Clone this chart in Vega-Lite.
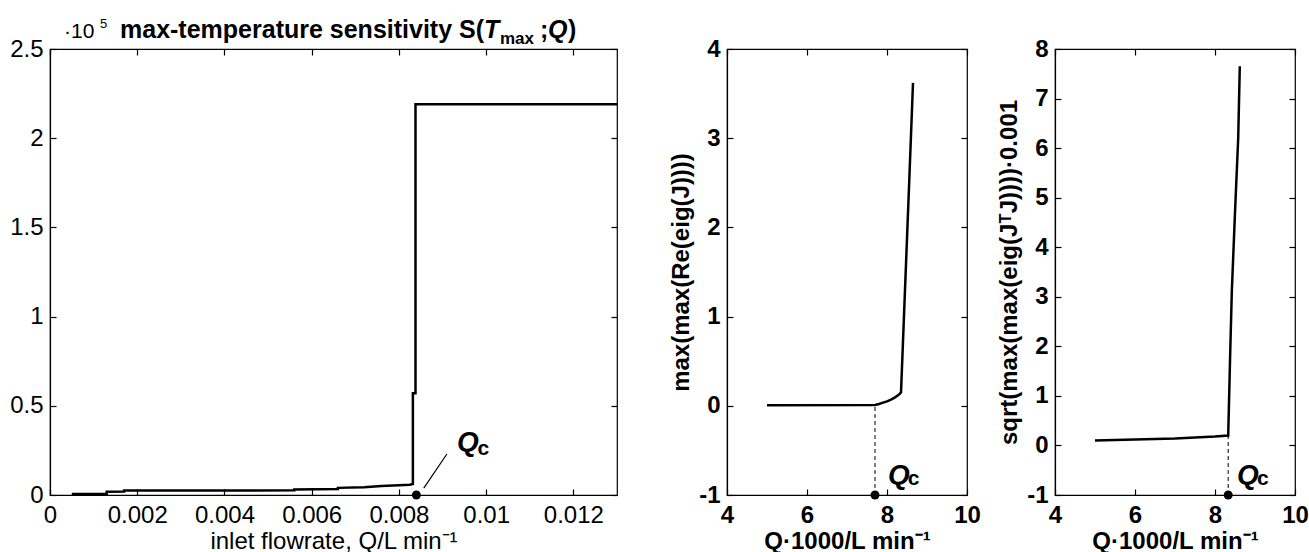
{
  "$schema": "https://vega.github.io/schema/vega-lite/v6.json",
  "padding": {"left": 9, "top": 17, "right": 2, "bottom": 3},
  "background": "white",
  "config": {
    "font": "Liberation Sans",
    "view": {"stroke": "black", "strokeWidth": 1.2},
    "axis": {"grid": false, "domainColor": "black", "domainWidth": 1.2, "tickColor": "black", "tickSize": 6, "tickWidth": 1.2, "labelColor": "black", "labelFont": "Liberation Sans", "labelFontSize": 24, "labelPadding": 7, "labelOverlap": false, "labelFlush": false, "titleColor": "black", "titleFont": "Liberation Sans", "titleFontSize": 24, "titleFontWeight": "normal"},
    "line": {"color": "black", "strokeWidth": 2.5},
    "text": {"font": "Liberation Sans", "color": "black"}
  },
  "datasets": {
    "sens": [
      {"Q": 0.0005, "S": 0.005}, {"Q": 0.0013, "S": 0.006}, {"Q": 0.0013, "S": 0.018}, {"Q": 0.0017, "S": 0.02}, {"Q": 0.0017, "S": 0.025},
      {"Q": 0.0056, "S": 0.026}, {"Q": 0.0056, "S": 0.031}, {"Q": 0.0066, "S": 0.034}, {"Q": 0.0066, "S": 0.04}, {"Q": 0.0072, "S": 0.044},
      {"Q": 0.0076, "S": 0.05}, {"Q": 0.008, "S": 0.055}, {"Q": 0.00825, "S": 0.058}, {"Q": 0.00832, "S": 0.062}, {"Q": 0.00832, "S": 0.57},
      {"Q": 0.00838, "S": 0.57}, {"Q": 0.00838, "S": 2.19}, {"Q": 0.013, "S": 2.19}
    ],
    "eigRe": [
      {"Q": 5, "v": 0.005}, {"Q": 7.7, "v": 0.01}, {"Q": 7.8, "v": 0.02}, {"Q": 7.9, "v": 0.035}, {"Q": 8.0, "v": 0.05}, {"Q": 8.1, "v": 0.07},
      {"Q": 8.2, "v": 0.095}, {"Q": 8.3, "v": 0.125}, {"Q": 8.35, "v": 0.15}, {"Q": 8.45, "v": 1.3}, {"Q": 8.55, "v": 2.45}, {"Q": 8.65, "v": 3.62}
    ],
    "eigJTJ": [
      {"Q": 5, "v": 0.1}, {"Q": 6, "v": 0.12}, {"Q": 7, "v": 0.14}, {"Q": 7.5, "v": 0.16}, {"Q": 8, "v": 0.18}, {"Q": 8.33, "v": 0.2},
      {"Q": 8.375, "v": 1.7}, {"Q": 8.42, "v": 3.1}, {"Q": 8.5, "v": 4.7}, {"Q": 8.58, "v": 6.2}, {"Q": 8.62, "v": 7.65}
    ],
    "one": [{}]
  },
  "bounds": "flush",
  "spacing": 110,
  "hconcat": [
    {
      "width": 567,
      "height": 446,
      "resolve": {"axis": {"x": "independent", "y": "independent"}},
      "layer": [
        {
          "data": {"name": "sens"},
          "mark": {"type": "line", "interpolate": "linear"},
          "encoding": {
            "x": {"field": "Q", "type": "quantitative", "scale": {"domain": [0, 0.013], "nice": false, "zero": false}, "axis": {"orient": "bottom", "values": [0, 0.002, 0.004, 0.006, 0.008, 0.01, 0.012], "format": "~g", "ticks": false, "labelPadding": 8, "title": "inlet flowrate, Q/L min⁻¹", "titlePadding": 2}},
            "y": {"field": "S", "type": "quantitative", "scale": {"domain": [0, 2.5], "nice": false, "zero": false}, "axis": {"orient": "left", "values": [0, 0.5, 1, 1.5, 2, 2.5], "format": "~g", "ticks": false, "title": null}}
          }
        },
        {
          "data": {"name": "sens"},
          "mark": {"type": "point", "opacity": 0},
          "encoding": {
            "x": {"field": "Q", "type": "quantitative", "axis": {"orient": "top", "offset": -6, "domain": false, "values": [0, 0.002, 0.004, 0.006, 0.008, 0.01, 0.012], "labels": false, "title": null}},
            "y": {"field": "S", "type": "quantitative", "axis": {"orient": "right", "offset": -6, "domain": false, "values": [0, 0.5, 1, 1.5, 2, 2.5], "labels": false, "title": null}}
          }
        },
        {
          "data": {"name": "sens"},
          "mark": {"type": "point", "opacity": 0},
          "encoding": {
            "x": {"field": "Q", "type": "quantitative", "axis": {"orient": "bottom", "offset": -6, "domain": false, "values": [0, 0.002, 0.004, 0.006, 0.008, 0.01, 0.012], "labels": false, "title": null}},
            "y": {"field": "S", "type": "quantitative", "axis": {"orient": "left", "offset": -6, "domain": false, "values": [0, 0.5, 1, 1.5, 2, 2.5], "labels": false, "title": null}}
          }
        },
        {
          "data": {"name": "one"},
          "mark": {"type": "rule", "color": "black", "strokeWidth": 1.2},
          "encoding": {"x": {"datum": 0.00857, "axis": null}, "y": {"datum": 0.039, "axis": null}, "x2": {"datum": 0.0091}, "y2": {"datum": 0.23}}
        },
        {
          "data": {"name": "one"},
          "mark": {"type": "point", "filled": true, "color": "black", "size": 80, "opacity": 1},
          "encoding": {"x": {"datum": 0.0084, "axis": null}, "y": {"datum": 0, "axis": null}}
        },
        {
          "data": {"name": "one"},
          "mark": {"type": "text", "text": "Q", "fontSize": 28, "fontWeight": "bold", "fontStyle": "italic", "align": "left", "baseline": "alphabetic"},
          "encoding": {"x": {"datum": 0.00933, "axis": null}, "y": {"datum": 0.247, "axis": null}}
        },
        {
          "data": {"name": "one"},
          "mark": {"type": "text", "text": "c", "fontSize": 21, "fontWeight": "bold", "align": "left", "baseline": "alphabetic"},
          "encoding": {"x": {"datum": 0.0098, "axis": null}, "y": {"datum": 0.224, "axis": null}}
        },
        {
          "data": {"name": "one"},
          "mark": {"type": "text", "text": "·10", "fontSize": 21, "align": "left", "baseline": "alphabetic"},
          "encoding": {"x": {"datum": 0.000321, "axis": null}, "y": {"datum": 2.5617, "axis": null}}
        },
        {
          "data": {"name": "one"},
          "mark": {"type": "text", "text": "5", "fontSize": 13, "align": "left", "baseline": "alphabetic"},
          "encoding": {"x": {"datum": 0.001146, "axis": null}, "y": {"datum": 2.6177, "axis": null}}
        },
        {
          "data": {"name": "one"},
          "mark": {"type": "text", "text": "max-temperature sensitivity S(", "fontSize": 25, "fontWeight": "bold", "align": "left", "baseline": "alphabetic"},
          "encoding": {"x": {"datum": 0.001605, "axis": null}, "y": {"datum": 2.5617, "axis": null}}
        },
        {
          "data": {"name": "one"},
          "mark": {"type": "text", "text": "T", "fontSize": 25, "fontWeight": "bold", "fontStyle": "italic", "align": "left", "baseline": "alphabetic"},
          "encoding": {"x": {"datum": 0.009951, "axis": null}, "y": {"datum": 2.5617, "axis": null}}
        },
        {
          "data": {"name": "one"},
          "mark": {"type": "text", "text": "max", "fontSize": 17, "fontWeight": "bold", "align": "left", "baseline": "alphabetic"},
          "encoding": {"x": {"datum": 0.010317, "axis": null}, "y": {"datum": 2.528, "axis": null}}
        },
        {
          "data": {"name": "one"},
          "mark": {"type": "text", "text": ";", "fontSize": 25, "fontWeight": "bold", "align": "left", "baseline": "alphabetic"},
          "encoding": {"x": {"datum": 0.011235, "axis": null}, "y": {"datum": 2.5617, "axis": null}}
        },
        {
          "data": {"name": "one"},
          "mark": {"type": "text", "text": "Q", "fontSize": 25, "fontWeight": "bold", "fontStyle": "italic", "align": "left", "baseline": "alphabetic"},
          "encoding": {"x": {"datum": 0.011418, "axis": null}, "y": {"datum": 2.5617, "axis": null}}
        },
        {
          "data": {"name": "one"},
          "mark": {"type": "text", "text": ")", "fontSize": 25, "fontWeight": "bold", "align": "left", "baseline": "alphabetic"},
          "encoding": {"x": {"datum": 0.011877, "axis": null}, "y": {"datum": 2.5617, "axis": null}}
        }
      ]
    },
    {
      "bounds": "flush",
      "spacing": 88,
      "hconcat": [
        {
          "width": 240,
          "height": 446,
          "resolve": {"axis": {"x": "independent", "y": "independent"}},
          "layer": [
            {
              "data": {"name": "eigRe"},
              "mark": {"type": "line"},
              "encoding": {
                "x": {"field": "Q", "type": "quantitative", "scale": {"domain": [4, 10], "nice": false, "zero": false}, "axis": {"orient": "bottom", "values": [4, 6, 8, 10], "ticks": false, "labelPadding": 8, "labelFontWeight": "bold", "title": "Q·1000/L min⁻¹", "titleFontWeight": "bold", "titlePadding": 2}},
                "y": {"field": "v", "type": "quantitative", "scale": {"domain": [-1, 4], "nice": false, "zero": false}, "axis": {"orient": "left", "values": [-1, 0, 1, 2, 3, 4], "labelExpr": "replace(datum.label, '−', '-')", "ticks": false, "labelFontWeight": "bold", "title": "max(max(Re(eig(J))))", "titleFontWeight": "bold", "titlePadding": 5}}
              }
            },
            {
              "data": {"name": "eigRe"},
              "mark": {"type": "point", "opacity": 0},
              "encoding": {
                "x": {"field": "Q", "type": "quantitative", "axis": {"orient": "top", "offset": -6, "domain": false, "values": [4, 6, 8, 10], "labels": false, "title": null}},
                "y": {"field": "v", "type": "quantitative", "axis": {"orient": "right", "offset": -6, "domain": false, "values": [-1, 0, 1, 2, 3, 4], "labels": false, "title": null}}
              }
            },
            {
              "data": {"name": "eigRe"},
              "mark": {"type": "point", "opacity": 0},
              "encoding": {
                "x": {"field": "Q", "type": "quantitative", "axis": {"orient": "bottom", "offset": -6, "domain": false, "values": [4, 6, 8, 10], "labels": false, "title": null}},
                "y": {"field": "v", "type": "quantitative", "axis": {"orient": "left", "offset": -6, "domain": false, "values": [-1, 0, 1, 2, 3, 4], "labels": false, "title": null}}
              }
            },
            {
              "data": {"name": "one"},
              "mark": {"type": "rule", "color": "black", "strokeWidth": 1, "strokeDash": [4, 3]},
              "encoding": {"x": {"datum": 7.7, "axis": null}, "y": {"datum": -1, "axis": null}, "y2": {"datum": 0.01}}
            },
            {
              "data": {"name": "one"},
              "mark": {"type": "point", "filled": true, "color": "black", "size": 80, "opacity": 1},
              "encoding": {"x": {"datum": 7.7, "axis": null}, "y": {"datum": -1, "axis": null}}
            },
            {
              "data": {"name": "one"},
              "mark": {"type": "text", "text": "Q", "fontSize": 28, "fontWeight": "bold", "fontStyle": "italic", "align": "left", "baseline": "alphabetic"},
              "encoding": {"x": {"datum": 8.025, "axis": null}, "y": {"datum": -0.877, "axis": null}}
            },
            {
              "data": {"name": "one"},
              "mark": {"type": "text", "text": "c", "fontSize": 21, "fontWeight": "bold", "align": "left", "baseline": "alphabetic"},
              "encoding": {"x": {"datum": 8.52, "axis": null}, "y": {"datum": -0.888, "axis": null}}
            }
          ]
        },
        {
          "width": 240,
          "height": 446,
          "resolve": {"axis": {"x": "independent", "y": "independent"}},
          "layer": [
            {
              "data": {"name": "eigJTJ"},
              "mark": {"type": "line"},
              "encoding": {
                "x": {"field": "Q", "type": "quantitative", "scale": {"domain": [4, 10], "nice": false, "zero": false}, "axis": {"orient": "bottom", "values": [4, 6, 8, 10], "ticks": false, "labelPadding": 8, "labelFontWeight": "bold", "title": "Q·1000/L min⁻¹", "titleFontWeight": "bold", "titlePadding": 2}},
                "y": {"field": "v", "type": "quantitative", "scale": {"domain": [-1, 8], "nice": false, "zero": false}, "axis": {"orient": "left", "values": [-1, 0, 1, 2, 3, 4, 5, 6, 7, 8], "labelExpr": "replace(datum.label, '−', '-')", "ticks": false, "labelFontWeight": "bold", "title": "sqrt(max(max(eig(JᵀJ))))·0.001", "titleFontWeight": "bold", "titlePadding": 5}}
              }
            },
            {
              "data": {"name": "eigJTJ"},
              "mark": {"type": "point", "opacity": 0},
              "encoding": {
                "x": {"field": "Q", "type": "quantitative", "axis": {"orient": "top", "offset": -6, "domain": false, "values": [4, 6, 8, 10], "labels": false, "title": null}},
                "y": {"field": "v", "type": "quantitative", "axis": {"orient": "right", "offset": -6, "domain": false, "values": [-1, 0, 1, 2, 3, 4, 5, 6, 7, 8], "labels": false, "title": null}}
              }
            },
            {
              "data": {"name": "eigJTJ"},
              "mark": {"type": "point", "opacity": 0},
              "encoding": {
                "x": {"field": "Q", "type": "quantitative", "axis": {"orient": "bottom", "offset": -6, "domain": false, "values": [4, 6, 8, 10], "labels": false, "title": null}},
                "y": {"field": "v", "type": "quantitative", "axis": {"orient": "left", "offset": -6, "domain": false, "values": [-1, 0, 1, 2, 3, 4, 5, 6, 7, 8], "labels": false, "title": null}}
              }
            },
            {
              "data": {"name": "one"},
              "mark": {"type": "rule", "color": "black", "strokeWidth": 1, "strokeDash": [4, 3]},
              "encoding": {"x": {"datum": 8.33, "axis": null}, "y": {"datum": -1, "axis": null}, "y2": {"datum": 0.2}}
            },
            {
              "data": {"name": "one"},
              "mark": {"type": "point", "filled": true, "color": "black", "size": 80, "opacity": 1},
              "encoding": {"x": {"datum": 8.33, "axis": null}, "y": {"datum": -1, "axis": null}}
            },
            {
              "data": {"name": "one"},
              "mark": {"type": "text", "text": "Q", "fontSize": 28, "fontWeight": "bold", "fontStyle": "italic", "align": "left", "baseline": "alphabetic"},
              "encoding": {"x": {"datum": 8.55, "axis": null}, "y": {"datum": -0.78, "axis": null}}
            },
            {
              "data": {"name": "one"},
              "mark": {"type": "text", "text": "c", "fontSize": 21, "fontWeight": "bold", "align": "left", "baseline": "alphabetic"},
              "encoding": {"x": {"datum": 9.05, "axis": null}, "y": {"datum": -0.8, "axis": null}}
            }
          ]
        }
      ]
    }
  ]
}
